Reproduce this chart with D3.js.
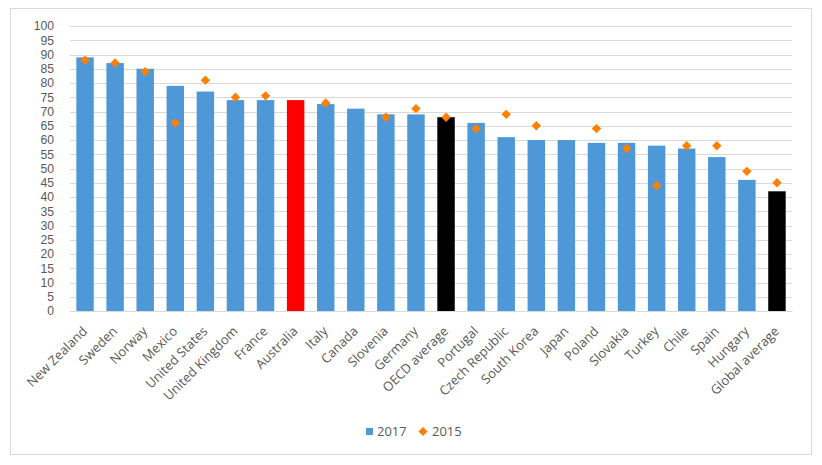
<!DOCTYPE html>
<html>
<head>
<meta charset="utf-8">
<script src="https://cdn.jsdelivr.net/npm/d3@7/dist/d3.min.js"></script>
<style>
html,body{margin:0;padding:0;background:#fff;}
svg{display:block;}
</style>
</head>
<body>
<svg id="chart" width="822" height="465"></svg>
<script>
const categories = ["New Zealand","Sweden","Norway","Mexico","United States","United Kingdom","France","Australia","Italy","Canada","Slovenia","Germany","OECD average","Portugal","Czech Republic","South Korea","Japan","Poland","Slovakia","Turkey","Chile","Spain","Hungary","Global average"];
const values2017 = [89,87,85,79,77,74,74,74,72.6,71,69,69,68,66,61,60,60,59,59,58,57,54,46,42];
const values2015 = [88,87,84,66,81,75,75.5,null,73,null,68,71,68,64,69,65,null,64,57,44,58,58,49,45];
const yTicks = d3.range(0,101,5);
const seriesNames = ["2017","2015"];
const highlight = {"Australia":"#ff0000","OECD average":"#000000","Global average":"#000000"};

const svg = d3.select("#chart");
const font = "'Open Sans', 'Liberation Sans', sans-serif";
const yFont = "'Liberation Sans', Arial, sans-serif";
const textColor = "#595959";

// outer border
svg.append("rect").attr("x",10.5).attr("y",8.5).attr("width",801).attr("height",446)
  .attr("fill","#fff").attr("stroke","#d9d9d9").attr("stroke-width",1);

const x = d3.scaleBand().domain(categories).range([70,792]).paddingInner(0.42).paddingOuter(0.21);
const y = d3.scaleLinear().domain([0,100]).range([311,26]);

// gridlines
svg.append("g").selectAll("line").data(yTicks).join("line")
  .attr("x1",70).attr("x2",792)
  .attr("y1",d=>Math.round(y(d))+0.5).attr("y2",d=>Math.round(y(d))+0.5)
  .attr("stroke","#d9d9d9").attr("stroke-width",1);

// y axis labels
const yAxis = d3.axisLeft(y).tickValues(yTicks).tickSize(0).tickPadding(16);
const yg = svg.append("g").attr("transform","translate(70,0)").call(yAxis);
yg.select(".domain").remove();
yg.selectAll("text").attr("font-family",yFont).attr("font-size",12.2).attr("fill",textColor);

// bars
svg.append("g").selectAll("rect").data(categories).join("rect")
  .attr("x",d=>x(d)).attr("width",x.bandwidth())
  .attr("y",(d,i)=>y(values2017[i])).attr("height",(d,i)=>y(0)-y(values2017[i]))
  .attr("fill",d=>highlight[d]||"#4e98d8");

// diamonds
const diamond = d3.symbol().type(d3.symbolSquare).size(44);
svg.append("g").selectAll("path").data(categories.map((c,i)=>({c,v:values2015[i]})).filter(d=>d.v!=null)).join("path")
  .attr("d",diamond)
  .attr("transform",d=>`translate(${x(d.c)+x.bandwidth()/2},${y(d.v)}) rotate(45)`)
  .attr("fill","#ff7f00");

// x labels
const xAxis = d3.axisBottom(x).tickSize(0).tickPadding(0);
const xg = svg.append("g").attr("transform","translate(0,311)").call(xAxis);
xg.select(".domain").attr("stroke","#d9d9d9");
xg.selectAll("text")
  .attr("font-family",font).attr("font-size",13).attr("fill",textColor)
  .attr("text-anchor","end")
  .attr("dy",null).attr("y",0)
  .attr("transform","translate(3,21) rotate(-45)");

// legend
const lg = svg.append("g");
lg.append("rect").attr("x",366).attr("y",428).attr("width",7).attr("height",7).attr("fill","#4e98d8");
lg.append("text").attr("x",377).attr("y",436).text(seriesNames[0])
  .attr("font-family",font).attr("font-size",13).attr("fill",textColor);
lg.append("path").attr("d",d3.symbol().type(d3.symbolSquare).size(40)())
  .attr("transform","translate(423,431.5) rotate(45)").attr("fill","#ff7f00");
lg.append("text").attr("x",432).attr("y",436).text(seriesNames[1])
  .attr("font-family",font).attr("font-size",13).attr("fill",textColor);
</script>
</body>
</html>
